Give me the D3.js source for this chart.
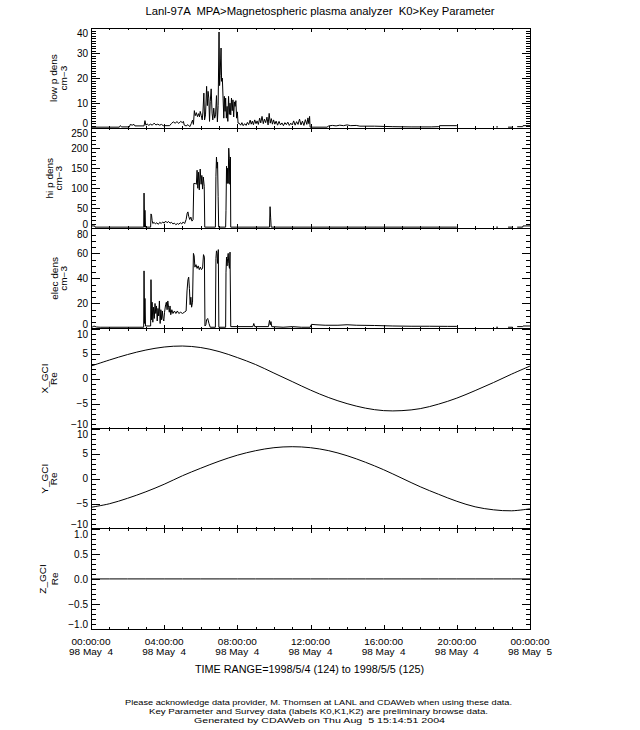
<!DOCTYPE html>
<html>
<head>
<meta charset="utf-8">
<script src="https://cdn.jsdelivr.net/npm/d3@7"></script>
<style>
    body { margin: 0; background: #fff; }
    text { font-family: "Liberation Sans", Arial, sans-serif; fill: #000; white-space: pre; }
    .tick text { font-family: "Liberation Sans", Arial, sans-serif; font-size: 10px; }
</style>
</head>
<body>
<svg id="chart" width="640" height="730"></svg>
<script>
// --- data (time in hours of 1998/5/4) ---
const HOURS = d3.range(0, 25);
const MAJOR_HOURS = [0, 4, 8, 12, 16, 20, 24];
const TIME_LABELS = ["00:00:00", "04:00:00", "08:00:00", "12:00:00", "16:00:00", "20:00:00", "00:00:00"];
const DATE_LABELS = ["98 May  4", "98 May  4", "98 May  4", "98 May  4", "98 May  4", "98 May  4", "98 May  5"];

const lowPDens = [
    [0.00,0.4],[1.55,0.4],[1.60,1.0],[1.68,0.5],[2.10,0.5],[2.15,1.5],[2.25,1.2],[2.35,1.5],[2.40,0.9],[2.90,0.9],
    [2.95,3.0],[3.00,1.2],[3.08,1.7],[3.15,1.1],[3.25,1.6],[3.35,1.2],[3.45,2.0],[3.55,1.3],[3.65,1.6],[3.75,1.2],[3.85,1.5],[3.95,1.0],
    [4.30,1.0],[4.40,1.9],[4.50,2.5],[4.60,2.0],[4.70,2.6],[4.80,1.9],[4.90,2.7],[5.00,2.2],[5.05,2.7],[5.10,1.2],[5.20,0.9],[5.30,1.4],[5.40,0.6],[5.48,1.8],[5.55,3.2],[5.60,1.5],
    [5.65,7.0],[5.70,5.0],[5.76,6.2],[5.82,4.6],[5.88,5.8],[5.93,4.5],[5.97,6.7],[6.03,5.0],[6.08,3.3],[6.12,6.5],[6.17,14.0],[6.21,3.3],[6.26,5.3],
    [6.32,16.7],[6.36,9.0],[6.40,14.7],[6.44,12.0],[6.48,2.7],[6.52,10.7],[6.57,15.7],[6.62,6.0],[6.66,3.3],[6.71,8.0],[6.76,4.0],[6.81,5.3],[6.86,13.0],[6.91,2.5],[6.95,9.0],
    [7.00,38.4],[7.03,17.0],[7.06,21.0],[7.09,28.0],[7.11,32.0],[7.14,18.7],[7.18,20.0],[7.22,12.0],[7.26,4.0],[7.29,12.7],[7.33,6.7],[7.36,12.0],[7.40,4.0],[7.44,8.7],
    [7.48,2.7],[7.52,12.7],[7.56,5.5],[7.60,10.0],[7.64,5.3],[7.68,12.0],[7.72,7.0],[7.76,11.3],[7.80,4.5],[7.84,10.5],[7.88,8.7],[7.92,11.0],[7.96,4.0],[8.00,6.5],[8.04,2.0],
    [8.10,2.0],[8.18,1.2],[8.25,2.2],[8.32,1.0],[8.40,1.8],[8.48,1.1],[8.55,2.3],[8.62,1.4],[8.70,3.2],[8.76,1.6],[8.82,2.8],[8.88,1.4],[8.95,3.3],[9.02,1.8],[9.08,2.9],[9.15,1.5],
    [9.22,4.0],[9.28,2.1],[9.35,4.7],[9.42,1.8],[9.48,3.6],[9.55,2.2],[9.62,4.4],[9.68,1.3],[9.74,5.9],[9.80,2.0],[9.86,3.8],[9.92,1.6],[9.98,3.3],
    [10.05,1.6],[10.12,2.8],[10.20,1.2],[10.28,2.7],[10.36,1.3],[10.44,2.1],[10.52,1.0],[10.60,2.2],[10.68,1.4],[10.76,2.4],[10.84,1.1],[10.92,2.0],[11.00,1.3],[11.08,2.9],
    [11.16,1.2],[11.24,2.6],[11.32,1.5],[11.40,3.6],[11.48,1.3],[11.56,2.8],[11.64,1.1],[11.72,3.4],[11.80,1.5],[11.86,4.1],[11.91,1.8],[11.95,4.7],[11.98,0.4],
    [12.90,0.4],[13.00,0.9],[13.20,1.1],[13.40,0.9],[13.60,1.2],[13.80,1.0],[14.00,1.3],[14.20,1.0],[14.50,1.1],[14.70,0.8],[15.50,0.8],[16.50,0.6],[17.50,0.5],[18.60,0.5],[19.00,0.6],[19.05,1.0],[20.00,1.0],
    null,[22.15,0.5],[22.25,0.5],null,[22.80,0.4],[23.05,0.4],null,[23.30,0.6],[23.60,0.6],[23.62,1.0],[24.00,1.0]
];

const hiPDens = [
    [0.00,6],[0.20,6],[0.22,3],[2.88,3],[2.90,88],[2.93,3],[2.95,45],[2.98,3],
    [3.26,3],[3.28,36],[3.31,33],[3.34,20],[3.38,12],[3.45,15],[3.52,11],[3.60,14],[3.68,10],[3.76,15],[3.84,12],[3.92,16],[4.00,13],[4.08,18],[4.16,14],[4.24,17],[4.32,13],[4.40,15],
    [4.48,11],[4.56,13],[4.64,9],[4.72,12],[4.80,10],[4.88,14],[4.96,11],[5.04,16],[5.12,12],[5.20,22],
    [5.26,38],[5.30,41],[5.34,30],[5.40,22],[5.46,28],[5.52,18],[5.58,22],[5.62,112],[5.70,112],[5.76,110],[5.80,145],[5.84,100],[5.88,140],[5.92,96],[5.97,148],[6.02,110],[6.06,132],[6.10,98],[6.14,128],[6.19,105],[6.22,3],
    [6.80,3],[6.83,130],[6.86,178],[6.89,150],[6.92,165],[6.95,80],[6.98,3],
    [7.36,3],[7.38,45],[7.41,155],[7.44,112],[7.47,150],[7.50,112],[7.53,200],[7.56,175],[7.59,110],[7.62,178],[7.64,3],
    [9.76,3],[9.79,54],[9.82,28],[9.85,3],[20.00,3],
    null,[22.15,3],[22.25,3],null,[22.80,3],[23.05,3],null,[23.30,3],[23.60,3],[23.62,6],[24.00,6]
];

const elecDens = [
    [0.00,1.0],[0.10,1.2],[0.15,2.0],[0.30,1.2],[0.50,1.0],[2.88,1.0],[2.90,46],[2.93,4],[2.95,24],[2.98,2],
    [3.26,2],[3.28,39],[3.31,7],[3.34,21],[3.38,5],[3.42,17],[3.46,8],[3.50,20],[3.54,12],[3.58,18],[3.62,6],[3.66,16],[3.70,10],[3.74,22],[3.78,4],[3.82,15],[3.86,7],[3.90,14],[3.94,8],[3.98,6],
    [4.02,13],[4.08,19],[4.12,21],[4.16,15],[4.20,22],[4.24,17],[4.28,13],[4.32,18],[4.36,11],[4.42,15],[4.48,12],[4.56,14],[4.64,12],[4.72,14],[4.80,12],[4.90,13],[5.00,12],[5.10,13],[5.20,14],
    [5.25,30],[5.30,39],[5.34,41],[5.38,32],[5.42,19],[5.46,25],[5.50,17],[5.55,21],
    [5.60,60],[5.64,58],[5.68,49],[5.74,51],[5.80,48],[5.86,50],[5.92,47],[5.98,49],[6.04,47],[6.10,48],[6.15,59],[6.20,57],[6.23,2],
    [6.28,3],[6.32,7],[6.38,8],[6.45,4],[6.52,1],
    [6.80,1],[6.83,56],[6.86,62],[6.89,60],[6.92,52],[6.96,63],[6.99,1],
    [7.36,1],[7.38,45],[7.41,57],[7.44,50],[7.47,56],[7.50,60],[7.53,52],[7.57,48],[7.60,61],[7.64,1.5],
    [8.00,1.5],[8.85,1.5],[8.90,4],[8.95,1.5],[9.70,1.5],[9.76,6.5],[9.80,3],[9.84,5.5],[9.88,1.5],[10.50,1.0],[11.00,1.5],[11.50,1.0],[11.98,1.0],
    [12.05,3.3],[12.30,3.0],[12.80,2.6],[13.50,2.6],[14.00,3.0],[14.50,2.6],[15.50,2.4],[16.50,2.0],[17.50,1.8],[18.50,1.8],[19.50,1.7],[20.00,1.7],
    null,[22.15,1.0],[22.25,1.0],null,[22.80,1.0],[23.05,1.0],null,[23.30,1.5],[23.60,1.5],[23.62,2.0],[24.00,2.0]
];

// hourly GCI position, Re
const xGci = [2.5,3.7,4.8,5.7,6.3,6.5,6.2,5.4,4.2,2.8,1.1,-0.6,-2.3,-3.8,-5.0,-5.9,-6.4,-6.4,-6.0,-5.1,-3.9,-2.4,-0.8,0.9,2.5];
const yGci = [-5.7,-5.0,-3.9,-2.6,-1.1,0.6,2.1,3.5,4.7,5.6,6.2,6.4,6.2,5.6,4.6,3.3,1.8,0.1,-1.6,-3.1,-4.5,-5.6,-6.2,-6.4,-6.0];
const zGci = [0,0,0,0,0,0,0,0,0,0,0,0,0,0,0,0,0,0,0,0,0,0,0,0,0];

const TITLE = "Lanl-97A  MPA>Magnetospheric plasma analyzer  K0>Key Parameter";
const TIME_RANGE = "TIME RANGE=1998/5/4 (124) to 1998/5/5 (125)";
const FOOTER = [
    "Please acknowledge data provider, M. Thomsen at LANL and CDAWeb when using these data.",
    "Key Parameter and Survey data (labels K0,K1,K2) are preliminary browse data.",
    "Generated by CDAWeb on Thu Aug  5 15:14:51 2004"
];

// panel setup: y range, major step, minor step, axis title
const panels = [
    { data: lowPDens, domain: [0, 40], step: 10, minor: 1, fmt: "d", title: ["low p dens", "cm\u22123"], titleX: [57, 66.5] },
    { data: hiPDens, domain: [0, 250], step: 50, minor: 10, fmt: "d", title: ["hi p dens", "cm\u22123"], titleX: [52.5, 61.5] },
    { data: elecDens, domain: [0, 80], step: 20, minor: 5, fmt: "d", title: ["elec dens", "cm\u22123"], titleX: [57.5, 66.5] },
    { data: HOURS.map((h, i) => [h, xGci[i]]), smooth: true, domain: [-10, 10], step: 5, minor: 1, fmt: "d", title: ["X_GCI", "Re"], titleX: [48, 57] },
    { data: HOURS.map((h, i) => [h, yGci[i]]), smooth: true, domain: [-10, 10], step: 5, minor: 1, fmt: "d", title: ["Y_GCI", "Re"], titleX: [48, 57] },
    { data: HOURS.map((h, i) => [h, zGci[i]]), domain: [-1, 1], step: 0.5, minor: 0.1, fmt: ".1f", title: ["Z_GCI", "Re"], titleX: [46, 57.5] }
];

const svg = d3.select("#chart");
const plotLeft = 91, plotRight = 530, plotTop = 28, plotBottom = 629;
const panelH = (plotBottom - plotTop) / panels.length;

const x = d3.scaleLinear().domain([0, 24]).range([plotLeft, plotRight]);
const minorHours = d3.range(0, 25, 1);

function clean(g) { g.select(".domain").remove(); }

// text drawn short and wide (like the vector font of the original):
// measured at `full` px, then shrunk in height to `small` px keeping its length
function squat(t, full, small) {
    t.attr("font-size", full);
    const len = t.node().getComputedTextLength();
    t.attr("font-size", small).attr("textLength", len).attr("lengthAdjust", "spacingAndGlyphs");
    return t;
}

panels.forEach((p, i) => {
    const y0 = plotTop + i * panelH, y1 = y0 + panelH;
    const y = d3.scaleLinear().domain(p.domain).range([y1, y0]);
    const g = svg.append("g");

    const majorY = d3.range(p.domain[0], p.domain[1] + p.step / 2, p.step);
    const minorY = d3.range(p.domain[0], p.domain[1] + p.minor / 2, p.minor);

    // data line
    g.append("clipPath").attr("id", "clip" + i)
        .append("rect").attr("x", plotLeft).attr("y", y0).attr("width", plotRight - plotLeft).attr("height", panelH);

    const line = d3.line()
        .defined(d => d !== null)
        .x(d => x(d[0]))
        .y(d => y(d[1]))
        .curve(p.smooth ? d3.curveCatmullRom : d3.curveLinear);

    g.append("path")
        .attr("clip-path", `url(#clip${i})`)
        .attr("d", line(p.data))
        .attr("fill", "none")
        .attr("stroke", "#000")
        .attr("stroke-width", 1);

    // frame
    g.append("rect")
        .attr("x", plotLeft).attr("y", y0)
        .attr("width", plotRight - plotLeft).attr("height", panelH)
        .attr("fill", "none").attr("stroke", "#000")
        .attr("shape-rendering", "crispEdges");

    // y axes, ticks pointing inward
    const axL = g.append("g").attr("transform", `translate(${plotLeft},0)`).attr("shape-rendering", "crispEdges");
    axL.append("g").call(d3.axisLeft(y).tickValues(minorY).tickSize(-4.5).tickFormat("")).call(clean);
    const lab = axL.append("g").call(d3.axisLeft(y).tickValues(majorY).tickSize(-8.5).tickPadding(3).tickFormat(d3.format(p.fmt))).call(clean);
    // end labels pushed inside the panel, like the original
    lab.selectAll(".tick text")
        .attr("dy", d => d === p.domain[1] ? "0.88em" : d === p.domain[0] ? "-0.12em" : "0.32em");

    const axR = g.append("g").attr("transform", `translate(${plotRight},0)`).attr("shape-rendering", "crispEdges");
    axR.append("g").call(d3.axisRight(y).tickValues(minorY).tickSize(-4.5).tickFormat("")).call(clean);
    axR.append("g").call(d3.axisRight(y).tickValues(majorY).tickSize(-8.5).tickFormat("")).call(clean);

    // x ticks top and bottom
    const axB = g.append("g").attr("transform", `translate(0,${y1})`).attr("shape-rendering", "crispEdges");
    axB.append("g").call(d3.axisBottom(x).tickValues(minorHours).tickSize(-2).tickFormat("")).call(clean);
    axB.append("g").call(d3.axisBottom(x).tickValues(MAJOR_HOURS).tickSize(-4).tickFormat("")).call(clean);
    const axT = g.append("g").attr("transform", `translate(0,${y0})`).attr("shape-rendering", "crispEdges");
    axT.append("g").call(d3.axisTop(x).tickValues(minorHours).tickSize(-2).tickFormat("")).call(clean);
    axT.append("g").call(d3.axisTop(x).tickValues(MAJOR_HOURS).tickSize(-4).tickFormat("")).call(clean);

    // rotated two-line axis title
    const cy = (y0 + y1) / 2;
    p.title.forEach((t, k) => {
        const tt = g.append("text")
            .attr("transform", `translate(${p.titleX[k]},${cy}) rotate(-90)`)
            .attr("text-anchor", "middle")
            .text(t);
        squat(tt, 10, 8.5);
    });
});

// time labels under the last panel
const xl = svg.append("g").attr("text-anchor", "middle");
MAJOR_HOURS.forEach((h, i) => {
    squat(xl.append("text").attr("x", x(h)).attr("y", 644.5).text(TIME_LABELS[i]), 10, 8.5);
    squat(xl.append("text").attr("x", x(h)).attr("y", 654.5).text(DATE_LABELS[i]), 10, 8.5);
});

svg.append("text")
    .attr("x", 320).attr("y", 15)
    .attr("text-anchor", "middle").attr("font-size", 10)
    .attr("textLength", 349).attr("lengthAdjust", "spacingAndGlyphs")
    .text(TITLE);

svg.append("text")
    .attr("x", 309.5).attr("y", 673)
    .attr("text-anchor", "middle").attr("font-size", 10)
    .attr("textLength", 229).attr("lengthAdjust", "spacingAndGlyphs")
    .text(TIME_RANGE);

const footW = [387, 339, 251];
const footX = [318.5, 318.5, 319.5];
const footY = [705, 714, 722.5];
FOOTER.forEach((t, k) => {
    svg.append("text")
        .attr("x", footX[k]).attr("y", footY[k])
        .attr("text-anchor", "middle").attr("font-size", 7.8)
        .attr("textLength", footW[k]).attr("lengthAdjust", "spacingAndGlyphs")
        .text(t);
});
</script>
</body>
</html>
